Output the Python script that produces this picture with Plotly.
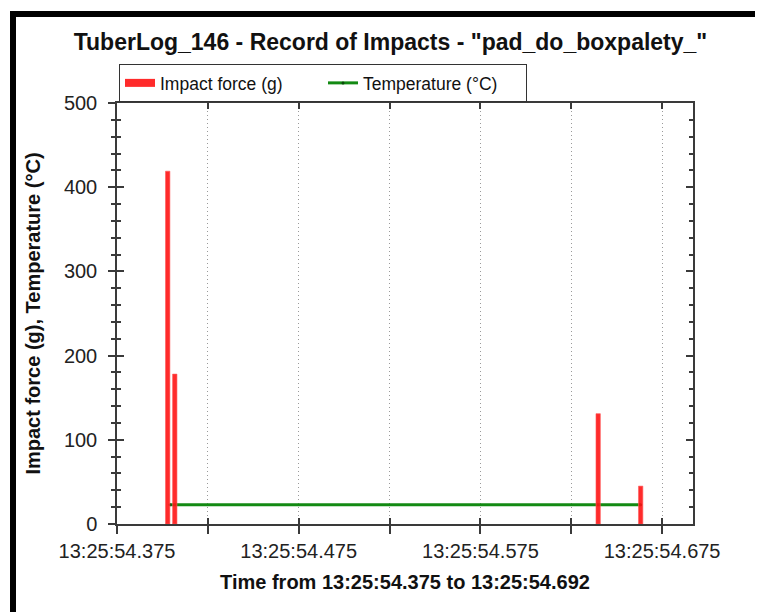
import plotly.graph_objects as go

# ---- data ----
day = "2021-01-01 "
impact_times = ["13:25:54.4029", "13:25:54.4068", "13:25:54.6398", "13:25:54.6632"]
impact_force = [419, 178, 131, 45]
temp_times = ["13:25:54.4042", "13:25:54.6632"]
temperature = [23, 23]
x_start = "13:25:54.375"
x_end = "13:25:54.692"
y_ticks = [0, 100, 200, 300, 400, 500]

title_text = 'TuberLog_146 - Record of Impacts - "pad_do_boxpalety_"'
x_title = f"Time from {x_start} to {x_end}"
y_title = "Impact force (g), Temperature (°C)"

FONT = "Liberation Sans, Arial, sans-serif"
AX = "#3a3a3a"
GRID = "#9a9a9a"

# page body has an 8px margin: figure is 755x604 so it fills the window
W, H = 755, 604
L, T, PW, PH = 109, 95, 576, 421

xi = [day + t for t in impact_times]
xt = [day + t for t in temp_times]
xr = [day + x_start, day + x_end]
t0 = day + x_start


def px(xp):  # screen x -> paper
    return (xp - 8 - L) / PW


def py(yp):  # screen y -> paper
    return (T + PH - (yp - 8)) / PH


fig = go.Figure()

fig.add_trace(go.Scatter(
    x=[None], y=[None], mode="lines", name="Impact force (g)",
    line=dict(color="rgba(255,20,20,0.9)", width=8), xaxis="x", yaxis="y",
))
fig.add_trace(go.Scatter(
    x=xt, y=temperature, mode="lines+markers", name="Temperature (°C)",
    line=dict(color="#138a13", width=3),
    marker=dict(size=3, color="#0b4a0b"), xaxis="x", yaxis="y",
))
fig.add_trace(go.Bar(
    x=xi, y=impact_force, width=2.4, name="Impact force (g)", showlegend=False,
    marker=dict(color="rgba(255,20,20,0.9)", line=dict(color="rgba(255,90,90,0.6)", width=1)),
    xaxis="x2", yaxis="y2",
))

tickfont = dict(family=FONT, size=20, color="#222")
common_x = dict(type="date", range=xr, tick0=t0, dtick=100,
                showline=True, linecolor=AX, linewidth=1.5, tickcolor=AX,
                automargin=False, zeroline=False)
common_y = dict(range=[0, 500], tickvals=y_ticks, showline=True, linecolor=AX,
                linewidth=1.5, tickcolor=AX, automargin=False, zeroline=False)

fig.update_layout(
    width=W, height=H,
    margin=dict(l=L, r=W - L - PW, t=T, b=H - T - PH),
    paper_bgcolor="white", plot_bgcolor="white",
    font=dict(family=FONT, color="#111"),
    title=dict(text=f"<b>{title_text}</b>", font=dict(family=FONT, size=23, color="#111"),
               x=(390.5 - 8) / W, xref="container", xanchor="center",
               y=1 - (42 - 8) / H, yref="container", yanchor="middle"),
    showlegend=True,
    legend=dict(orientation="h", x=px(119), xref="paper", xanchor="left",
                y=py(64), yanchor="top",
                bordercolor="#333", borderwidth=1, bgcolor="white",
                font=dict(family=FONT, size=17.5, color="#111"),
                entrywidth=158, entrywidthmode="pixels"),
    xaxis=dict(**common_x, ticks="outside", ticklen=8, tickwidth=1.5,
               tickformat="%H:%M:%S.%L", tickfont=tickfont,
               showgrid=True, gridcolor=GRID, griddash="1px,3px", gridwidth=1,
               minor=dict(tick0=t0, dtick=50, ticks="outside", ticklen=8, tickcolor=AX,
                          tickwidth=1.5, showgrid=True, gridcolor=GRID,
                          griddash="1px,3px", gridwidth=1),
               title=dict(text=f"<b>{x_title}</b>", font=dict(family=FONT, size=20, color="#111"),
                          standoff=14)),
    yaxis=dict(**common_y, ticks="outside", ticklen=7, tickwidth=1.5, tickfont=tickfont,
               ticklabelstandoff=7, showgrid=False,
               minor=dict(dtick=20, ticks="outside", ticklen=4, tickcolor=AX, tickwidth=1.5,
                          showgrid=False),
               title=dict(text=f"<b>{y_title}</b>", font=dict(family=FONT, size=20, color="#111"),
                          standoff=18)),
    xaxis2=dict(**common_x, overlaying="x", anchor="y2", side="bottom", mirror="ticks",
                ticks="inside", ticklen=6, tickwidth=1.5, showticklabels=False, showgrid=False,
                minor=dict(tick0=t0, dtick=50, ticks="inside", ticklen=6, tickcolor=AX,
                           tickwidth=1.5, showgrid=False)),
    yaxis2=dict(**common_y, overlaying="y", anchor="x2", side="left", mirror="ticks",
                ticks="inside", ticklen=7, tickwidth=1.5, showticklabels=False, showgrid=False,
                minor=dict(dtick=20, ticks="inside", ticklen=4, tickcolor=AX, tickwidth=1.5,
                           showgrid=False)),
    shapes=[
        dict(type="rect", xref="paper", yref="paper", layer="above",
             x0=px(10), x1=px(16), y0=py(640), y1=py(11),
             fillcolor="black", line=dict(width=0)),
        dict(type="rect", xref="paper", yref="paper", layer="above",
             x0=px(10), x1=px(790), y0=py(17), y1=py(11),
             fillcolor="black", line=dict(width=0)),
    ],
)

fig.write_html("out.html")
